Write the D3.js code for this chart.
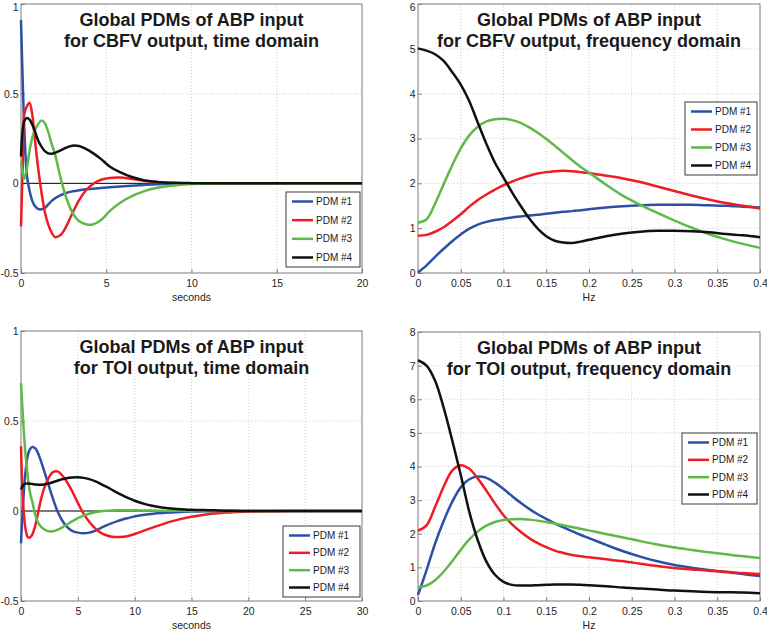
<!DOCTYPE html>
<html>
<head>
<meta charset="utf-8">
<script src="https://cdn.jsdelivr.net/npm/d3@7"></script>
<style>
  body { margin: 0; background: #fff; }
  svg { display: block; font-family: "Liberation Sans", Arial, sans-serif; }
</style>
</head>
<body>
<script>
// ---- data ----
let seriesNames = ["PDM #1", "PDM #2", "PDM #3", "PDM #4"]
let seriesColors = ["#2d4fa6", "#ee1d24", "#5eb947", "#111111"]

// CBFV, time domain (seconds)
let cbfvT = [0, 0.1, 0.2, 0.35, 0.5, 0.65, 0.8, 1.0, 1.2, 1.4, 1.6, 1.8, 2.0, 2.3, 2.6, 3.0, 3.4, 3.8, 4.2, 4.7, 5.2, 5.8, 6.5, 7.2, 8, 9, 10, 11, 12, 14, 16, 18, 20]
let cbfvTime1 = [0.91, 0.57, 0.29, 0.04, -0.04, -0.095, -0.125, -0.143, -0.145, -0.137, -0.118, -0.098, -0.083, -0.067, -0.055, -0.045, -0.038, -0.033, -0.03, -0.026, -0.022, -0.018, -0.013, -0.009, -0.005, -0.002, -0.001, 0, 0, 0, 0, 0, 0]
let cbfvTime2 = [-0.24, 0.09, 0.39, 0.43, 0.45, 0.39, 0.26, 0.09, -0.05, -0.16, -0.23, -0.275, -0.3, -0.29, -0.25, -0.17, -0.095, -0.04, -0.005, 0.02, 0.03, 0.032, 0.024, 0.014, 0.006, 0.002, 0, 0, 0, 0, 0, 0, 0]
let cbfvTime3 = [0.12, 0.06, 0.026, 0.09, 0.18, 0.25, 0.295, 0.33, 0.35, 0.335, 0.285, 0.22, 0.16, 0.04, -0.065, -0.16, -0.21, -0.228, -0.23, -0.205, -0.155, -0.11, -0.072, -0.045, -0.025, -0.012, -0.004, -0.001, 0, 0, 0, 0, 0]
let cbfvTime4 = [0.15, 0.3, 0.35, 0.364, 0.355, 0.33, 0.295, 0.24, 0.205, 0.18, 0.167, 0.165, 0.17, 0.183, 0.197, 0.21, 0.208, 0.192, 0.17, 0.135, 0.094, 0.062, 0.035, 0.017, 0.008, 0.003, 0.001, 0, 0, 0, 0, 0, 0]

// frequency grid (Hz), shared by both frequency panels
let freqHz = [0, 0.01, 0.02, 0.03, 0.04, 0.05, 0.06, 0.07, 0.08, 0.09, 0.1, 0.11, 0.12, 0.13, 0.14, 0.15, 0.16, 0.17, 0.18, 0.19, 0.2, 0.22, 0.24, 0.26, 0.28, 0.3, 0.32, 0.34, 0.36, 0.38, 0.4]

// CBFV, frequency domain
let cbfvFreq1 = [0.01, 0.17, 0.36, 0.54, 0.71, 0.86, 0.99, 1.08, 1.14, 1.18, 1.21, 1.24, 1.26, 1.28, 1.3, 1.32, 1.345, 1.365, 1.38, 1.4, 1.42, 1.46, 1.49, 1.51, 1.52, 1.52, 1.52, 1.51, 1.5, 1.48, 1.46]
let cbfvFreq2 = [0.83, 0.85, 0.92, 1.02, 1.16, 1.31, 1.48, 1.63, 1.75, 1.86, 1.96, 2.04, 2.11, 2.17, 2.22, 2.25, 2.27, 2.28, 2.27, 2.25, 2.23, 2.17, 2.11, 2.03, 1.93, 1.83, 1.73, 1.64, 1.56, 1.5, 1.44]
let cbfvFreq3 = [1.12, 1.2, 1.55, 1.98, 2.4, 2.78, 3.07, 3.26, 3.38, 3.43, 3.44, 3.41, 3.35, 3.25, 3.13, 2.99, 2.84, 2.68, 2.52, 2.37, 2.24, 1.97, 1.72, 1.52, 1.34, 1.17, 1.01, 0.87, 0.75, 0.65, 0.56]
let cbfvFreq4 = [5.01, 4.96, 4.88, 4.73, 4.48, 4.2, 3.83, 3.35, 2.88, 2.46, 2.13, 1.8, 1.5, 1.22, 0.99, 0.82, 0.72, 0.68, 0.67, 0.7, 0.74, 0.82, 0.88, 0.92, 0.94, 0.94, 0.93, 0.91, 0.87, 0.84, 0.8]

// TOI, time domain (seconds)
let toiT = [0, 0.2, 0.4, 0.6, 0.8, 1.0, 1.3, 1.6, 2.0, 2.4, 2.8, 3.2, 3.6, 4.0, 4.5, 5.0, 5.5, 6.0, 6.5, 7.0, 7.5, 8, 8.5, 9, 9.5, 10, 11, 12, 13, 14, 15, 16, 17, 18, 19, 20, 22, 24, 26, 28, 30]
let toiTime1 = [-0.18, 0.06, 0.22, 0.31, 0.345, 0.355, 0.345, 0.305, 0.23, 0.15, 0.07, 0, -0.05, -0.085, -0.11, -0.12, -0.123, -0.12, -0.11, -0.095, -0.08, -0.067, -0.056, -0.046, -0.038, -0.03, -0.02, -0.013, -0.008, -0.005, -0.003, -0.002, -0.001, 0, 0, 0, 0, 0, 0, 0, 0]
let toiTime2 = [0.36, 0.03, -0.1, -0.145, -0.147, -0.13, -0.07, 0.02, 0.12, 0.18, 0.215, 0.22, 0.2, 0.165, 0.11, 0.045, -0.015, -0.06, -0.095, -0.12, -0.135, -0.143, -0.145, -0.143, -0.137, -0.128, -0.105, -0.083, -0.062, -0.045, -0.032, -0.022, -0.014, -0.009, -0.005, -0.003, -0.001, 0, 0, 0, 0]
let toiTime3 = [0.71, 0.49, 0.31, 0.19, 0.1, 0.05, -0.03, -0.075, -0.1, -0.112, -0.113, -0.105, -0.092, -0.077, -0.058, -0.04, -0.026, -0.015, -0.007, -0.002, 0.001, 0.003, 0.004, 0.004, 0.004, 0.004, 0.003, 0.002, 0.001, 0.001, 0, 0, 0, 0, 0, 0, 0, 0, 0, 0, 0]
let toiTime4 = [0.12, 0.145, 0.152, 0.153, 0.152, 0.15, 0.147, 0.146, 0.147, 0.152, 0.16, 0.168, 0.176, 0.182, 0.186, 0.187, 0.184, 0.177, 0.166, 0.151, 0.135, 0.118, 0.101, 0.085, 0.07, 0.057, 0.037, 0.024, 0.015, 0.01, 0.007, 0.005, 0.004, 0.002, 0.001, 0, 0, 0, 0, 0, 0]

// TOI, frequency domain
let toiFreq1 = [0.18, 0.92, 1.71, 2.38, 2.95, 3.38, 3.62, 3.7, 3.66, 3.52, 3.33, 3.12, 2.92, 2.74, 2.58, 2.44, 2.31, 2.19, 2.08, 1.97, 1.87, 1.67, 1.48, 1.32, 1.18, 1.07, 0.99, 0.92, 0.86, 0.8, 0.74]
let toiFreq2 = [2.09, 2.25, 2.8, 3.4, 3.88, 4.04, 3.93, 3.64, 3.28, 2.9, 2.55, 2.28, 2.06, 1.87, 1.72, 1.6, 1.5, 1.43, 1.37, 1.33, 1.3, 1.24, 1.18, 1.11, 1.04, 0.98, 0.94, 0.9, 0.87, 0.83, 0.8]
let toiFreq3 = [0.41, 0.46, 0.62, 0.87, 1.18, 1.52, 1.83, 2.07, 2.24, 2.35, 2.41, 2.43, 2.44, 2.42, 2.39, 2.35, 2.3, 2.25, 2.2, 2.15, 2.1, 1.99, 1.89, 1.78, 1.68, 1.59, 1.52, 1.45, 1.39, 1.33, 1.28]
let toiFreq4 = [7.16, 7.0, 6.55, 5.75, 4.78, 3.75, 2.65, 1.8, 1.17, 0.78, 0.57, 0.48, 0.46, 0.46, 0.47, 0.48, 0.49, 0.49, 0.49, 0.48, 0.47, 0.44, 0.4, 0.37, 0.34, 0.31, 0.29, 0.27, 0.26, 0.25, 0.23]

// tick values
let timeYTicks = [-0.5, 0, 0.5, 1]
let cbfvXTicks = [0, 5, 10, 15, 20]
let toiXTicks = [0, 5, 10, 15, 20, 25, 30]
let freqXTicks = [0, 0.05, 0.1, 0.15, 0.2, 0.25, 0.3, 0.35, 0.4]
let cbfvFreqYTicks = [0, 1, 2, 3, 4, 5, 6]
let toiFreqYTicks = [0, 1, 2, 3, 4, 5, 6, 7, 8]

// ---- drawing ----
let svg = d3.select("body").append("svg")
    .attr("width", 767)
    .attr("height", 630)

let panels = [
    { box: [21, 362, 4, 273], x: cbfvT, ys: [cbfvTime1, cbfvTime2, cbfvTime3, cbfvTime4],
      xDom: [0, 20], yDom: [-0.5, 1], xTicks: cbfvXTicks, yTicks: timeYTicks, zero: true,
      title: ["Global PDMs of ABP input", "for CBFV output, time domain"], xLabel: "seconds",
      legend: [286, 192, 74, 75] },
    { box: [418, 760, 4, 273], x: freqHz, ys: [cbfvFreq1, cbfvFreq2, cbfvFreq3, cbfvFreq4],
      xDom: [0, 0.4], yDom: [0, 6], xTicks: freqXTicks, yTicks: cbfvFreqYTicks, zero: false,
      title: ["Global PDMs of ABP input", "for CBFV output, frequency domain"], xLabel: "Hz",
      legend: [685, 102, 72, 73] },
    { box: [21, 362, 331, 601], x: toiT, ys: [toiTime1, toiTime2, toiTime3, toiTime4],
      xDom: [0, 30], yDom: [-0.5, 1], xTicks: toiXTicks, yTicks: timeYTicks, zero: true,
      title: ["Global PDMs of ABP input", "for TOI output, time domain"], xLabel: "seconds",
      legend: [283, 526, 77, 71] },
    { box: [418, 760, 332, 601], x: freqHz, ys: [toiFreq1, toiFreq2, toiFreq3, toiFreq4],
      xDom: [0, 0.4], yDom: [0, 8], xTicks: freqXTicks, yTicks: toiFreqYTicks, zero: false,
      title: ["Global PDMs of ABP input", "for TOI output, frequency domain"], xLabel: "Hz",
      legend: [682, 433, 75, 71] }
]

function dessinerPanneau(p) {
    let [left, right, top, bottom] = p.box
    let x = d3.scaleLinear().domain(p.xDom).range([left, right])
    let y = d3.scaleLinear().domain(p.yDom).range([bottom, top])
    let g = svg.append("g")

    // grid
    g.selectAll(".gx").data(p.xTicks.slice(1, -1)).enter().append("line")
        .attr("x1", d => x(d)).attr("x2", d => x(d))
        .attr("y1", top).attr("y2", bottom)
        .attr("stroke", "#c4c4c4").attr("stroke-width", 0.8).attr("stroke-dasharray", "1,2")
    g.selectAll(".gy").data(p.yTicks.slice(1, -1)).enter().append("line")
        .attr("x1", left).attr("x2", right)
        .attr("y1", d => y(d)).attr("y2", d => y(d))
        .attr("stroke", "#c4c4c4").attr("stroke-width", 0.8).attr("stroke-dasharray", "1,2")

    // axes
    let xAxis = d3.axisBottom(x).tickValues(p.xTicks).tickSize(-4).tickPadding(7)
        .tickFormat(d => String(+d.toFixed(2)))
    let yAxis = d3.axisLeft(y).tickValues(p.yTicks).tickSize(-4).tickPadding(2.5)
        .tickFormat(d => String(d))
    let ax = g.append("g").attr("transform", "translate(0," + bottom + ")").call(xAxis)
    let ay = g.append("g").attr("transform", "translate(" + left + ",0)").call(yAxis)
    for (const a of [ax, ay]) {
        a.select(".domain").remove()
        a.selectAll("line").attr("stroke", "#808080")
        a.selectAll("text").attr("fill", "#262626").attr("font-size", 10.5)
            .attr("font-family", "Liberation Sans, Arial, sans-serif")
    }
    // keep the top y label inside the page
    ay.selectAll(".tick").filter(d => y(d) < 7).select("text").attr("y", 7 - y(p.yDom[1]))

    // frame
    g.append("rect").attr("x", left).attr("y", top)
        .attr("width", right - left).attr("height", bottom - top)
        .attr("fill", "none").attr("stroke", "#7a7a7a").attr("stroke-width", 1)

    // zero line
    if (p.zero) {
        g.append("line").attr("x1", left).attr("x2", right)
            .attr("y1", y(0)).attr("y2", y(0))
            .attr("stroke", "#000").attr("stroke-width", 1)
    }

    // curves
    let line = d3.line().curve(d3.curveCatmullRom.alpha(0.5))
    p.ys.forEach((vals, i) => {
        g.append("path")
            .datum(vals.map((v, k) => [x(p.x[k]), y(v)]))
            .attr("d", line)
            .attr("fill", "none")
            .attr("stroke", seriesColors[i])
            .attr("stroke-width", 2.5)
            .attr("stroke-linejoin", "round")
    })

    // title
    let cx = (left + right) / 2
    p.title.forEach((t, i) => {
        g.append("text").attr("x", cx).attr("y", top + 22 + i * 20.5)
            .attr("text-anchor", "middle").attr("font-weight", "bold")
            .attr("font-size", 18).attr("fill", "#1a1a1a").text(t)
    })

    // x label
    g.append("text").attr("x", cx).attr("y", bottom + 28)
        .attr("text-anchor", "middle").attr("font-size", 10.5).attr("fill", "#262626")
        .text(p.xLabel)

    // legend
    let [lx, ly, lw, lh] = p.legend
    g.append("rect").attr("x", lx).attr("y", ly).attr("width", lw).attr("height", lh)
        .attr("fill", "#fff").attr("stroke", "#3a3a3a").attr("stroke-width", 1)
    let step = (lh - 19) / 3
    seriesNames.forEach((nom, i) => {
        let yy = ly + 9.5 + i * step
        g.append("line").attr("x1", lx + 6).attr("x2", lx + 27)
            .attr("y1", yy).attr("y2", yy)
            .attr("stroke", seriesColors[i]).attr("stroke-width", 2.5)
        g.append("text").attr("x", lx + 30).attr("y", yy + 3.6)
            .attr("font-size", 10).attr("fill", "#1a1a1a").text(nom)
    })
}

panels.forEach(dessinerPanneau)
</script>
</body>
</html>
